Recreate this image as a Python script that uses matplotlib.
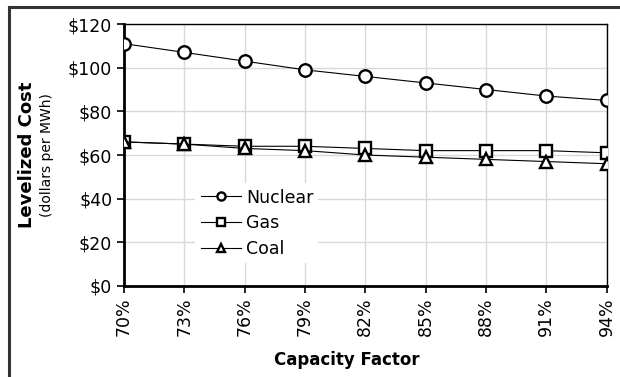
import matplotlib.pyplot as plt
from matplotlib.lines import Line2D
from matplotlib.ticker import FuncFormatter

# Levelized cost vs capacity factor
capacity = [70, 73, 76, 79, 82, 85, 88, 91, 94]
nuclear = [111, 107, 103, 99, 96, 93, 90, 87, 85]
gas = [66, 65, 64, 64, 63, 62, 62, 62, 61]
coal = [66, 65, 63, 62, 60, 59, 58, 57, 56]

plt.rcParams['font.family'] = 'DejaVu Sans'

fig = plt.figure(figsize=(6.2, 3.77), dpi=100)
ax = fig.add_axes([0.2, 0.2414, 0.7785, 0.6949])

mk = dict(color='black', lw=0.8, markersize=9, markeredgewidth=1.7,
          markerfacecolor='white', markeredgecolor='black')
ax.plot(capacity, nuclear, marker='o', label='Nuclear', zorder=5, **mk)
ax.plot(capacity, gas, marker='s', label='Gas', zorder=4, **mk)
ax.plot(capacity, coal, marker='^', label='Coal', zorder=6, **mk)

ax.set_xlim(70, 94)
ax.set_ylim(0, 120)
ax.set_xticks(capacity)
ax.set_xticklabels([f'{c}%' for c in capacity], rotation=90)
ax.set_yticks(range(0, 121, 20))
ax.yaxis.set_major_formatter(FuncFormatter(lambda v, p: f'${v:.0f}'))
ax.tick_params(labelsize=12.5, length=5, width=1.2, direction='out', colors='black')
ax.tick_params(axis='x', pad=3)
ax.grid(True, color='#d9d9d9', lw=1)
ax.set_axisbelow(True)

for side in ['left', 'bottom']:
    ax.spines[side].set_linewidth(2)
for side in ['top', 'right']:
    ax.spines[side].set_linewidth(1)

leg = ax.legend(loc='upper left', bbox_to_anchor=(0.13, 0.425), frameon=True,
                fontsize=12.5, markerscale=0.65, handlelength=2.3,
                handletextpad=0.3, labelspacing=0.45, borderpad=0.3)
leg.get_frame().set_edgecolor('none')
leg.get_frame().set_facecolor('white')
leg.get_frame().set_alpha(1)
leg.set_zorder(10)

fig.text(0.044, 0.589, 'Levelized Cost', rotation=90, ha='center', va='center',
         fontsize=13, fontweight='bold')
fig.text(0.076, 0.589, '(dollars per MWh)', rotation=90, ha='center', va='center',
         fontsize=10)
fig.text(0.56, 0.045, 'Capacity Factor', ha='center', va='center',
         fontsize=12, fontweight='bold')

# outer chart frame (top and left edges)
fig.add_artist(Line2D([0.014, 1.0], [0.982, 0.982], color='#333333', lw=2.2))
fig.add_artist(Line2D([0.014, 0.014], [0.0, 0.982], color='#333333', lw=2.2))

fig.savefig('out.png', dpi=100)
